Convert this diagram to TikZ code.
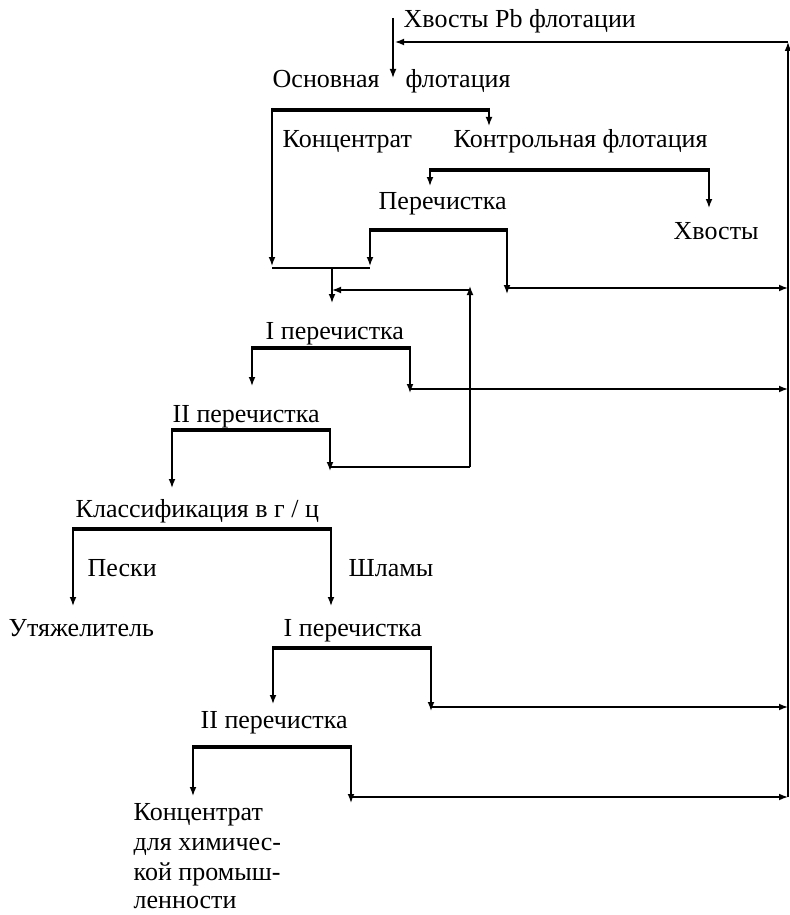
\documentclass[tikz,border=0pt]{standalone}
\usepackage{fontspec}
\setmainfont{Liberation Serif}
\newfontfamily\rmru{Liberation Serif}
\usepackage{tikz}
\usetikzlibrary{arrows.meta}

\begin{document}
\begin{tikzpicture}[x=0.5pt,y=-0.5pt,->,>={Latex[length=4.5pt,width=3.4pt]},line width=0.7pt,
    every node/.style={inner sep=0pt,anchor=base west,font=\rmru\fontsize{13}{15}\selectfont},
    bar/.style={-,line width=2.4pt}]
  \useasboundingbox (0,0) rectangle (789,915);
  % labels
  \node (feed) at (403,28) {Хвосты Pb флотации};
  \node (rough) at (272,88) {Основная};
  \node (roughb) at (405,88) {флотация};
  \node (conc) at (282,148) {Концентрат};
  \node (scav) at (453,148) {Контрольная флотация};
  \node (clean) at (378,209) {Перечистка};
  \node (tails) at (673,239) {Хвосты};
  \node (clA) at (265,339) {I перечистка};
  \node (clB) at (172,422) {II перечистка};
  \node (class) at (75,517) {Классификация в г / ц};
  \node (sand) at (87,576) {Пески};
  \node (slime) at (348,576) {Шламы};
  \node (weight) at (8,636) {Утяжелитель};
  \node (clC) at (283,636) {I перечистка};
  \node (clD) at (200,728) {II перечистка};
  \node (chemA) at (133,820) {Концентрат};
  \node (chemB) at (133,850) {для химичес-};
  \node (chemC) at (133,880) {кой промыш-};
  \node (chemD) at (133,908) {ленности};
  % points
  \coordinate (f0) at (393,18);   \coordinate (f1) at (393,78);
  \coordinate (rt) at (788,42);   \coordinate (rf) at (393,42);
  \coordinate (b1l) at (272,110); \coordinate (b1r) at (489,110);
  \coordinate (b2l) at (430,170); \coordinate (b2r) at (709,170);
  \coordinate (b3l) at (370,230); \coordinate (b3r) at (507,230);
  \coordinate (j1) at (272,268);  \coordinate (j2) at (370,268);
  \coordinate (jm) at (332,268);  \coordinate (ja) at (332,303);
  \coordinate (rc) at (470,290);  \coordinate (rci) at (332,290);
  \coordinate (t3) at (507,288);  \coordinate (e3) at (788,288);
  \coordinate (b4l) at (252,348); \coordinate (b4r) at (410,348);
  \coordinate (t4) at (410,389);  \coordinate (e4) at (788,389);
  \coordinate (b5l) at (172,430); \coordinate (b5r) at (330,430);
  \coordinate (t5) at (330,467);  \coordinate (rb) at (470,467);
  \coordinate (b6l) at (73,529);  \coordinate (b6r) at (331,529);
  \coordinate (b7l) at (273,648); \coordinate (b7r) at (431,648);
  \coordinate (t7) at (431,707);  \coordinate (e7) at (788,707);
  \coordinate (b8l) at (193,747); \coordinate (b8r) at (351,747);
  \coordinate (t8) at (351,797);  \coordinate (e8) at (788,797);
  % feed and return to head
  \draw (f0) -- (f1);
  \draw (e8) -- (rt);
  \draw (rt) -- ([xshift=1]rf);
  % rougher
  \draw[bar] (b1l) -- (b1r);
  \draw ([yshift=1]b1r) -- (489,126);
  \draw ([yshift=1]b1l) -- (272,266);
  % scavenger
  \draw[bar] (b2l) -- (b2r);
  \draw ([yshift=1]b2l) -- (430,186);
  \draw ([yshift=1]b2r) -- (709,208);
  % cleaner
  \draw[bar] (b3l) -- (b3r);
  \draw ([yshift=1]b3l) -- (370,266);
  \draw ([yshift=1]b3r) -- ([yshift=-3]t3);
  \draw (t3) -- (e3);
  \draw[-] (j1) -- (j2);
  \draw (jm) -- (ja);
  % I cleaning
  \draw[bar] (b4l) -- (b4r);
  \draw ([yshift=1]b4l) -- (252,386);
  \draw ([yshift=1]b4r) -- ([yshift=-2]t4);
  \draw (t4) -- (e4);
  % II cleaning
  \draw[bar] (b5l) -- (b5r);
  \draw ([yshift=1]b5l) -- (172,488);
  \draw ([yshift=1]b5r) -- ([yshift=-2]t5);
  \draw[-] (t5) -- (rb);
  \draw (rb) -- ([yshift=2]rc);
  \draw (rc) -- (rci);
  % classification
  \draw[bar] (b6l) -- (b6r);
  \draw ([yshift=1]b6l) -- (73,606);
  \draw ([yshift=1]b6r) -- (331,606);
  % slimes cleaning
  \draw[bar] (b7l) -- (b7r);
  \draw ([yshift=1]b7l) -- (273,704);
  \draw ([yshift=1]b7r) -- ([yshift=-2]t7);
  \draw (t7) -- (e7);
  \draw[bar] (b8l) -- (b8r);
  \draw ([yshift=1]b8l) -- (193,796);
  \draw ([yshift=1]b8r) -- ([yshift=-3]t8);
  \draw (t8) -- (e8);
\end{tikzpicture}
\end{document}
